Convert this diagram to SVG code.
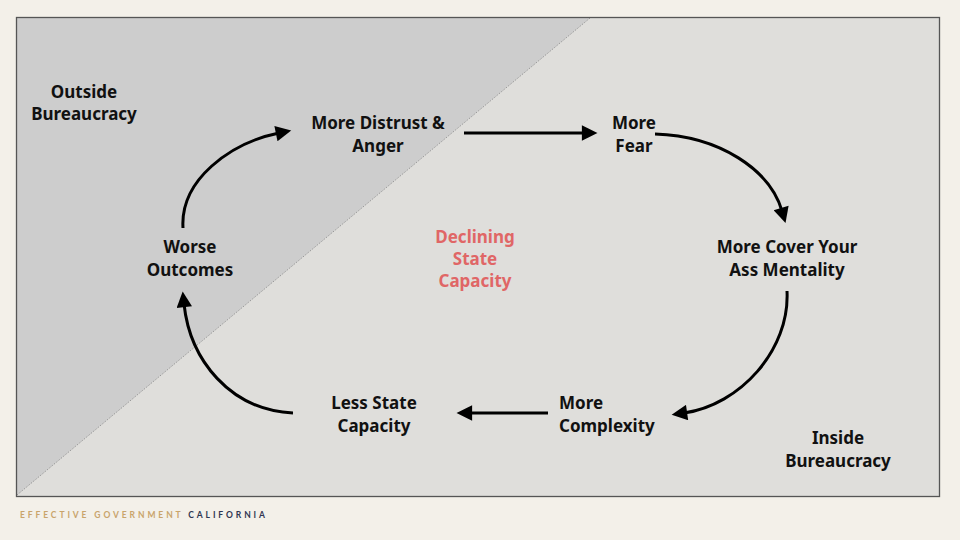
<svg xmlns="http://www.w3.org/2000/svg" width="960" height="540" viewBox="0 0 960 540">
<style>
.t{font-family:"Noto Sans","Open Sans",sans-serif;font-weight:700;font-size:17px;fill:#111;text-anchor:middle}
.l{text-anchor:start}
.r{fill:#e06666}
.c{fill:none;stroke:#000;stroke-width:3;marker-end:url(#ah)}
.f{font-family:"Lato","Noto Sans",sans-serif;font-weight:700;font-size:8.5px;letter-spacing:2.9px}
</style>
<defs>
<marker id="ah" viewBox="0 0 10 10" refX="2" refY="5" markerWidth="6" markerHeight="5.2" orient="auto" markerUnits="strokeWidth">
<path d="M0,0 L10,5 L0,10 z" fill="#000"/>
</marker>
</defs>
<rect width="960" height="540" fill="#f3f0e9"/>
<rect x="16.5" y="17.5" width="923" height="479" fill="#dfdedb"/>
<polygon points="17,18 590,18 17,495" fill="#cdcdcd"/>
<line x1="590" y1="18" x2="17" y2="495" stroke="#999" stroke-width="1" stroke-dasharray="1.5,1.5"/>
<rect x="16.5" y="17.5" width="923" height="479" fill="none" stroke="#555" stroke-width="1.3"/>
<g id="connectors">
<path class="c" d="M464,133 L585,133"/>
<path class="c" d="M655,134 C720,136 770,170 782,211"/>
<path class="c" d="M787,291 C790,350 740,405 684,413"/>
<path class="c" d="M548,413 L469,413"/>
<path class="c" d="M293,413 C230,410 190,360 184,304"/>
<path class="c" d="M183,228 C180,180 230,143 279,133"/>
</g>
<g id="outside"><text class="t" x="84" y="98">Outside</text><text class="t" x="84" y="120">Bureaucracy</text></g>
<g id="distrust"><text class="t" x="378" y="129">More Distrust &amp;</text><text class="t" x="378" y="152">Anger</text></g>
<g id="fear"><text class="t" x="634" y="129">More</text><text class="t" x="634" y="152">Fear</text></g>
<g id="cya"><text class="t" x="787" y="253">More Cover Your</text><text class="t" x="787" y="276">Ass Mentality</text></g>
<g id="complexity"><text class="t l" x="559" y="409">More</text><text class="t l" x="559" y="432">Complexity</text></g>
<g id="capacity"><text class="t" x="374" y="409">Less State</text><text class="t" x="374" y="432">Capacity</text></g>
<g id="outcomes"><text class="t" x="190" y="253">Worse</text><text class="t" x="190" y="276">Outcomes</text></g>
<g id="declining"><text class="t r" x="475" y="243">Declining</text><text class="t r" x="475" y="265">State</text><text class="t r" x="475" y="287">Capacity</text></g>
<g id="inside"><text class="t" x="838" y="444">Inside</text><text class="t" x="838" y="467">Bureaucracy</text></g>
<text class="f" x="20" y="518"><tspan fill="#c9a46b">EFFECTIVE GOVERNMENT </tspan><tspan fill="#2e3550">CALIFORNIA</tspan></text>
</svg>
